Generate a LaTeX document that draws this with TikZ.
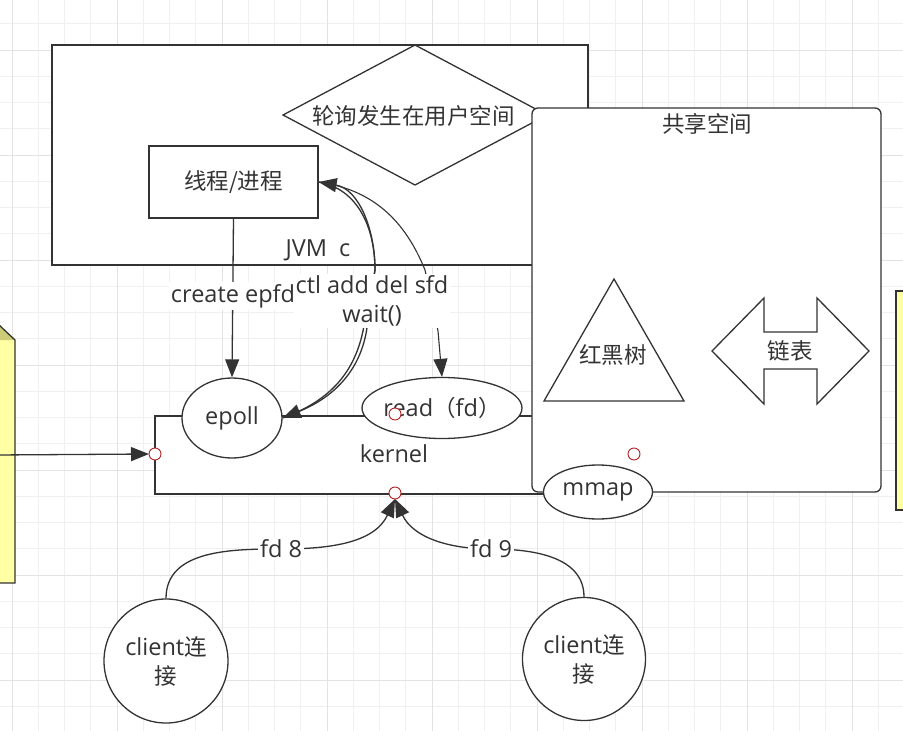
\documentclass[tikz,border=0pt]{standalone}
\usepackage{fontspec}
\setmainfont{Open Sans}
\newfontfamily\cjkfam{Noto Sans CJK SC}
\newcommand\zh[1]{{\cjkfam\fontsize{22.5}{29}\selectfont #1}}
\usetikzlibrary{arrows.meta,shapes.geometric}

\definecolor{ink}{HTML}{333333}
\definecolor{gridminor}{HTML}{F0F0F0}
\definecolor{gridmajor}{HTML}{E3E3E3}
\definecolor{paleyellow}{HTML}{FFFFA3}
\definecolor{olivetop}{HTML}{CCCC77}
\definecolor{portred}{HTML}{B22222}

\begin{document}
\begin{tikzpicture}[x=1pt,y=-1pt,
  every node/.style={font=\fontsize{23.5}{29}\selectfont, text=ink},
  shapeline/.style={draw=ink, line width=1.3pt, fill=white},
  conn/.style={draw=ink, line width=1.3pt},
  arrowtip/.style={-{Triangle[length=18pt,width=14pt]}},
  elabel/.style={fill=white, inner sep=2pt},
  port/.style={circle, draw=portred, fill=white, line width=0.9pt, minimum size=12pt, inner sep=0pt},
]
\useasboundingbox (0,0) rectangle (903,731);
\clip (0,0) rectangle (903,731);
\fill[white] (0,0) rectangle (903,731);

% background grid
\foreach \i in {0,...,34}
  \draw[gridminor, line width=0.9pt] ({12+\i*26.25},0) -- ({12+\i*26.25},731);
\foreach \i in {0,...,27}
  \draw[gridminor, line width=0.9pt] (0,{23.75+\i*26.25}) -- (903,{23.75+\i*26.25});
\foreach \i in {0,...,8}
  \draw[gridmajor, line width=0.9pt] ({12+\i*105},0) -- ({12+\i*105},731);
\foreach \i in {0,...,6}
  \draw[gridmajor, line width=0.9pt] (0,{50+\i*105}) -- (903,{50+\i*105});

% yellow cube on the left edge
\fill[paleyellow] (-2,340) rectangle (15,583);
\fill[olivetop] (-2,324) -- (15,340) -- (-2,340) -- cycle;
\draw[ink, line width=1.3pt] (-2,324) -- (15,340) -- (15,583) -- (-2,583);

% yellow box on the right edge
\draw[shapeline, fill=paleyellow] (896,291) rectangle (915,510);

% user space (JVM)
\node[shapeline, rectangle, minimum width=536pt, minimum height=220pt, inner sep=0pt] (jvm) at (320,155) {};
\draw[shapeline] (283,115) -- (415,45) -- (547,115) -- (415,185) -- cycle;
\node (pollnote) at (413.5,116) {\zh{轮询发生在用户空间}};
\node[shapeline, rectangle, minimum width=169pt, minimum height=72pt, inner sep=0pt] (thread) at (233.5,182) {\zh{线程/进程}};
\node (jvmlabel) at (318,250) {JVM\ \ c};

% kernel
\node[shapeline, rectangle, minimum width=445pt, minimum height=78pt, inner sep=0pt] (kernel) at (377.5,455) {};
\node (kernellabel) at (394,454) {kernel};

% shared space
\node[shapeline, rectangle, rounded corners=6pt, minimum width=349pt, minimum height=384pt, inner sep=0pt] (shared) at (706.5,300) {};
\node (sharedlabel) at (707,124) {\zh{共享空间}};
\draw[shapeline] (614,279) -- (684,401) -- (544,401) -- cycle;
\node (rbtree) at (613,355) {\zh{红黑树}};
\draw[shapeline] (712,351) -- (764,298) -- (764,332) -- (817,332) -- (817,298) -- (869,351)
  -- (817,404) -- (817,369) -- (764,369) -- (764,404) -- cycle;
\node (linked) at (790,351) {\zh{链表}};

% kernel objects
\node[shapeline, ellipse, minimum width=100pt, minimum height=80pt, inner sep=0pt] (epoll) at (232,418) {epoll};
\node[shapeline, ellipse, minimum width=160pt, minimum height=61pt, inner sep=0pt,
  label={center:read\zh{（}fd\zh{）}}] (read) at (442,408) {};
\node[shapeline, ellipse, minimum width=109pt, minimum height=54pt, inner sep=0pt] (mmap) at (598,492) {mmap};

% clients
\node[shapeline, circle, minimum size=124pt, inner sep=0pt, align=center] (c1) at (166,661) {client\zh{连}\\\zh{接}};
\node[shapeline, circle, minimum size=123pt, inner sep=0pt, align=center] (c2) at (584,659) {client\zh{连}\\\zh{接}};

% anchor points for connectors
\coordinate (feed) at (-5,455);
\coordinate (kleft) at (149,454);
\coordinate (kin) at (395,499);
\coordinate (ctlin) at (363,331);
\coordinate (ctlin2) at (366.5,331);
\coordinate (ctlout) at (375,270);
\coordinate (rdout) at (425,270);
\coordinate (rdin) at (438,331);
\coordinate (fd8pos) at (281,549);
\coordinate (fd9pos) at (491,549);

% connectors
\draw[conn, arrowtip] (feed) -- (kleft);
\draw[conn, arrowtip] (thread.south) -- (epoll.north);
\draw[conn, arrowtip] (epoll.east) to[out=20,in=-102] (ctlin) -- (ctlout) to[out=90,in=-10] (thread.east);
\draw[conn, arrowtip] (thread.east) to[out=-10,in=90] (ctlout) -- (ctlin2) to[out=-100,in=22] (epoll.east);
\draw[conn, line width=1.1pt, arrowtip] (thread.east) to[out=-8,in=112] (rdout) -- (rdin) -- (read.north);
\draw[conn, arrowtip] (c1.north) to[out=90,in=180] (fd8pos) to[out=0,in=-115] (kin);
\draw[conn, arrowtip] (c2.north) to[out=90,in=0] (fd9pos) to[out=180,in=-65] (kin);

% connector labels
\node[elabel] (createlbl) at (233,296) {create epfd};
\node[elabel, align=center] (ctllbl) at (372,301) {ctl add del sfd\\wait()};
\node[elabel] (fd8) at (fd8pos) {fd 8};
\node[elabel] (fd9) at (fd9pos) {fd 9};

% connection points
\node[port] (pleft) at (155,454) {};
\node[port] (pread) at (395,414) {};
\node[port] (pbottom) at (395,493) {};
\node[port] (pshared) at (634,454) {};
\end{tikzpicture}
\end{document}
